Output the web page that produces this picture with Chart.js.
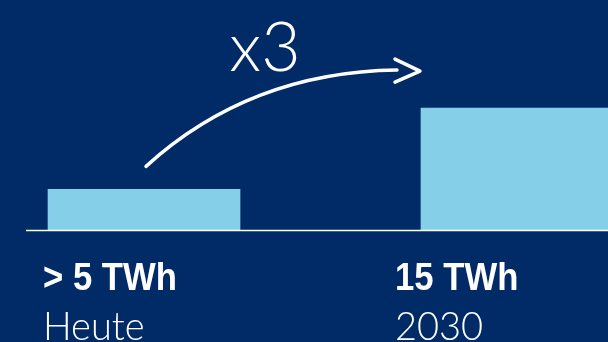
<!DOCTYPE html>
<html>
<head>
<meta charset="utf-8">
<script src="https://cdn.jsdelivr.net/npm/chart.js@4"></script>
<style>
  html, body { margin: 0; padding: 0; background: #002b67; }
  #wrap { width: 608px; height: 342px; overflow: hidden; }
</style>
</head>
<body>
<div id="wrap"><canvas id="chart" width="608" height="342"></canvas></div>
<script>
// data
const categories = ['Heute', '2030'];
const valueLabels = ['> 5 TWh', '15 TWh'];
const values = [5, 15];
const growthLabel = 'x3';

const navy = '#002b67';
const barBlue = '#86cfe8';

// labels under the bars + baseline + the hand drawn arrow
const decorations = {
  id: 'decorations',
  afterDatasetsDraw(chart) {
    const ctx = chart.ctx;
    const x = chart.scales.x, y = chart.scales.y;
    const area = chart.chartArea;
    const y0 = y.getPixelForValue(0);

    // baseline
    ctx.save();
    ctx.strokeStyle = '#ffffff';
    ctx.lineWidth = 1.5;
    ctx.beginPath();
    ctx.moveTo(area.left, y0 + 0.5);
    ctx.lineTo(area.right, y0 + 0.5);
    ctx.stroke();

    // labels (the original font is a condensed one, so squeeze a bit)
    const offsets = [-101, -122];
    ctx.fillStyle = '#ffffff';
    ctx.textBaseline = 'alphabetic';
    ctx.textAlign = 'left';
    values.forEach((v, i) => {
      const lx = x.getPixelForValue(i) + offsets[i];
      ctx.save();
      ctx.translate(lx, y0 + 60);
      ctx.scale(0.89, 1);
      ctx.font = 'bold 39px "Liberation Sans", sans-serif';
      ctx.fillText(valueLabels[i], 0, 0);
      ctx.restore();
      ctx.save();
      ctx.translate(lx, y0 + 110);
      ctx.scale(0.95, 1);
      ctx.font = '300 40px Lato, "Liberation Sans", sans-serif';
      ctx.fillText(categories[i], 0, 0);
      ctx.restore();
    });

    // arrow
    const meta = chart.getDatasetMeta(0);
    const b0 = meta.data[0], b1 = meta.data[1];
    const sx = b0.x + 2, sy = b0.y - 23;
    const ex = b1.x - 120, ey = b1.y - 38;
    ctx.strokeStyle = '#ffffff';
    ctx.lineWidth = 3.5;
    ctx.lineCap = 'round';
    ctx.lineJoin = 'round';
    ctx.beginPath();
    ctx.moveTo(sx, sy);
    ctx.quadraticCurveTo(250, ey + 2, ex, ey);
    ctx.stroke();
    ctx.beginPath();
    ctx.moveTo(ex - 2, ey - 11);
    ctx.lineTo(ex + 23, ey + 1);
    ctx.lineTo(ex - 2, ey + 12);
    ctx.stroke();

    ctx.font = '300 68px Lato, sans-serif';
    ctx.textAlign = 'center';
    ctx.fillText(growthLabel, 265, 71);
    ctx.restore();
  }
};

const ctx = document.getElementById('chart').getContext('2d');
new Chart(ctx, {
  type: 'bar',
  data: {
    datasets: [{
      data: values.map((v, i) => ({ x: i, y: v })),
      backgroundColor: barBlue,
      borderWidth: 0,
      barThickness: 192
    }]
  },
  options: {
    responsive: false,
    animation: false,
    devicePixelRatio: 1,
    layout: { padding: { left: 26, right: 0, top: 0, bottom: 112 } },
    plugins: { legend: { display: false }, tooltip: { enabled: false } },
    scales: {
      x: { type: 'linear', display: false, offset: false, min: -0.3164, max: 1.244 },
      y: { display: false, min: 0, max: 28.3 }
    }
  },
  plugins: [decorations]
});
</script>
</body>
</html>
